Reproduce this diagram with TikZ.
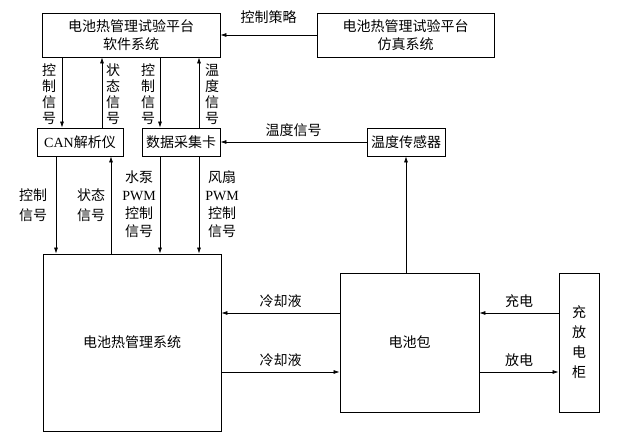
\documentclass[tikz,border=0pt]{standalone}
\usepackage{fontspec}
\setmainfont{Noto Sans CJK SC}
\newfontfamily\latinfont{Liberation Serif}
\usetikzlibrary{arrows.meta}

\begin{document}
\begin{tikzpicture}[x=1pt,y=-1pt,
  box/.style={draw,line width=0.8pt,inner sep=0pt,align=center,font=\fontsize{14}{18}\selectfont},
  lbl/.style={inner sep=0pt,align=center,font=\fontsize{14}{18}\selectfont},
  vlbl/.style={inner sep=0pt,align=center,font=\fontsize{14}{16}\selectfont},
  arr/.style={-{Latex[length=6pt,width=4pt]},line width=0.7pt}]
\useasboundingbox (0,0) rectangle (620,438);
\node [box,minimum width=178pt,minimum height=44pt] (soft) at (131,35) {电池热管理试验平台\\软件系统};
\node [box,minimum width=177pt,minimum height=44pt] (sim) at (405.5,35) {电池热管理试验平台\\仿真系统};
\node [box,minimum width=86pt,minimum height=28pt] (can) at (80,142) {{\latinfont CAN}解析仪};
\node [box,minimum width=78pt,minimum height=28pt] (daq) at (181,142) {数据采集卡};
\node [box,minimum width=78pt,minimum height=28pt] (sensor) at (406,142) {温度传感器};
\node [box,minimum width=178pt,minimum height=177pt] (btms) at (132,342.5) {电池热管理系统};
\node [box,minimum width=40pt,minimum height=139pt,font=\fontsize{14}{20}\selectfont] (cab) at (579,342.5) {充\\放\\电\\柜};
\node [box,minimum width=139pt,minimum height=139pt] (pack) at (409.5,342.5) {电池包};

\draw[arr] (sim.west) -- (soft.east) node [lbl,midway,above=11pt] (s1) {控制策略};
\draw[arr] (sensor.west) -- (daq.east) node [lbl,midway,above=5pt] (s2) {温度信号};
\draw[arr] (pack.north -| sensor.south) -- (sensor.south);

\draw[arr] (soft.south -| 62,0) -- (can.north -| 62,0);
\draw[arr] (can.north -| 102,0) -- (soft.south -| 102,0);
\draw[arr] (soft.south -| 160,0) -- (daq.north -| 160,0);
\draw[arr] (daq.north -| 199,0) -- (soft.south -| 199,0);
\node [vlbl] (v1) at (49,94) {控\\制\\信\\号};
\node [vlbl] (v2) at (113,94) {状\\态\\信\\号};
\node [vlbl] (v3) at (148,94) {控\\制\\信\\号};
\node [vlbl] (v4) at (212,94) {温\\度\\信\\号};

\draw[arr] (can.south -| 56,0) -- (btms.north -| 56,0);
\draw[arr] (btms.north -| 111,0) -- (can.south -| 111,0);
\draw[arr] (daq.south -| 160,0) -- (btms.north -| 160,0);
\draw[arr] (daq.south -| 199,0) -- (btms.north -| 199,0);
\node [lbl,font=\fontsize{14}{20}\selectfont] (w1) at (33,205) {控制\\信号};
\node [lbl,font=\fontsize{14}{20}\selectfont] (w2) at (91,205) {状态\\信号};
\node [lbl] (w3) at (139,204) {水泵\\{\latinfont PWM}\\控制\\信号};
\node [lbl] (w4) at (222,204) {风扇\\{\latinfont PWM}\\控制\\信号};

\draw[arr] (pack.west |- 0,313) -- (btms.east |- 0,313) node [lbl,midway,above=5pt] (c1) {冷却液};
\draw[arr] (btms.east |- 0,372) -- (pack.west |- 0,372) node [lbl,midway,above=5pt] (c2) {冷却液};
\draw[arr] (cab.west |- 0,313) -- (pack.east |- 0,313) node [lbl,midway,above=5pt] (e1) {充电};
\draw[arr] (pack.east |- 0,372) -- (cab.west |- 0,372) node [lbl,midway,above=5pt] (e2) {放电};
\end{tikzpicture}
\end{document}
